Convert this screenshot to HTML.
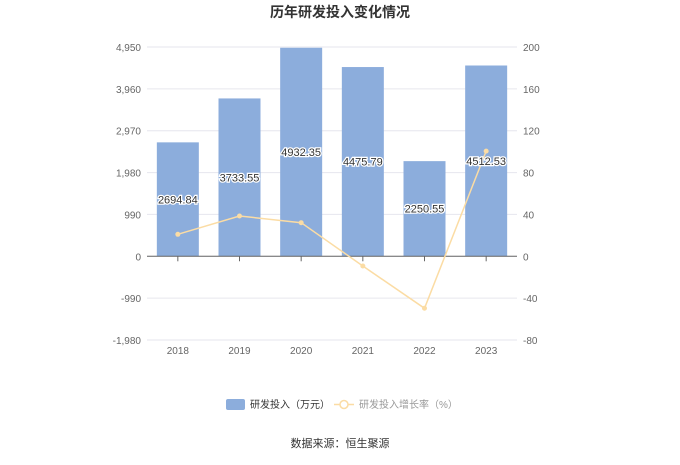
<!DOCTYPE html>
<html><head><meta charset="utf-8"><style>
body{margin:0;background:#fff;font-family:"Liberation Sans","Noto Sans CJK SC",sans-serif;}
</style></head><body>
<svg id="c" width="680" height="460" xmlns="http://www.w3.org/2000/svg" font-family="Liberation Sans, Noto Sans CJK SC, sans-serif"></svg>
<script>
const categories=["2018","2019","2020","2021","2022","2023"];
const barValues=[2694.84,3733.55,4932.35,4475.79,2250.55,4512.53];
const barLabels=["2694.84","3733.55","4932.35","4475.79","2250.55","4512.53"];
const growthValues=[21.0,38.5,32.1,-9.3,-49.7,100.5];
const leftTicks=[-1980,-990,0,990,1980,2970,3960,4950];
const leftTickLabels=["-1,980","-990","0","990","1,980","2,970","3,960","4,950"];
const rightTicks=[-80,-40,0,40,80,120,160,200];
const svg=document.getElementById('c');const NS="http://www.w3.org/2000/svg";
function mk(t,a,txt){const e=document.createElementNS(NS,t);for(const k in a)e.setAttribute(k,a[k]);if(txt!=null)e.textContent=txt;svg.appendChild(e);return e;}
const x0=147,x1=517,yTop=47,yBot=340;
const yL=v=>yBot-(v+1980)/(4950+1980)*(yBot-yTop);
const yR=v=>yBot-(v+80)/280*(yBot-yTop);
const bw=(x1-x0)/categories.length;
const xc=i=>x0+bw*(i+0.5);
let t=mk('text',{x:340,y:17,'text-anchor':'middle','font-size':14,'font-weight':'bold',fill:'#333'},'历年研发投入变化情况');

leftTicks.forEach((v,i)=>{const y=yL(v);
 let g=mk('line',{x1:x0,x2:x1,y1:y,y2:y,stroke:'#e6e6ee','stroke-width':1});
 let l=mk('text',{x:x0-6,y:y+4,'text-anchor':'end','font-size':10,fill:'#666'},leftTickLabels[i]);});
rightTicks.forEach(v=>{const y=yR(v);
 let l=mk('text',{x:x1+6,y:y+4,'text-anchor':'start','font-size':10,fill:'#666'},String(v));});
barValues.forEach((v,i)=>{const y=yL(v),y0=yL(0);
 let r=mk('rect',{x:xc(i)-21,y:y,width:42,height:y0-y,fill:'#8caddc'});});
let ax=mk('line',{x1:x0,x2:x1,y1:yL(0),y2:yL(0),stroke:'#666','stroke-width':1});
categories.forEach((c,i)=>{
 let tk=mk('line',{x1:xc(i),x2:xc(i),y1:yL(0),y2:yL(0)+5,stroke:'#666'});
 let l=mk('text',{x:xc(i),y:354,'text-anchor':'middle','font-size':10,fill:'#666'},c);});
const pts=growthValues.map((v,i)=>xc(i)+','+yR(v)).join(' ');
let pl=mk('polyline',{points:pts,fill:'none',stroke:'#fbdca4','stroke-width':1.5});
growthValues.forEach((v,i)=>{let c=mk('circle',{cx:xc(i),cy:yR(v),r:2.5,fill:'#fbdca4'});});
barValues.forEach((v,i)=>{const y=(yL(v)+yL(0))/2+4;
 let l=mk('text',{x:xc(i),y:y,'text-anchor':'middle','font-size':11,fill:'#333',stroke:'#fff','stroke-width':2.5,'paint-order':'stroke'},barLabels[i]);});
let lb=mk('rect',{x:226,y:399,width:19,height:11,rx:2,fill:'#8caddc'});
let lt=mk('text',{x:250,y:408,'font-size':10,fill:'#333'},'研发投入（万元）');
let ll=mk('line',{x1:334,x2:354,y1:404.5,y2:404.5,stroke:'#fbdca4','stroke-width':1.5});
let lc=mk('circle',{cx:344,cy:404.5,r:4,fill:'#fff',stroke:'#fbdca4','stroke-width':1.5});
let lt2=mk('text',{x:359,y:408,'font-size':10,fill:'#999'},'研发投入增长率（%）');
let src=mk('text',{x:340,y:447,'text-anchor':'middle','font-size':11,fill:'#333'},'数据来源：恒生聚源');
</script>
</body></html>
